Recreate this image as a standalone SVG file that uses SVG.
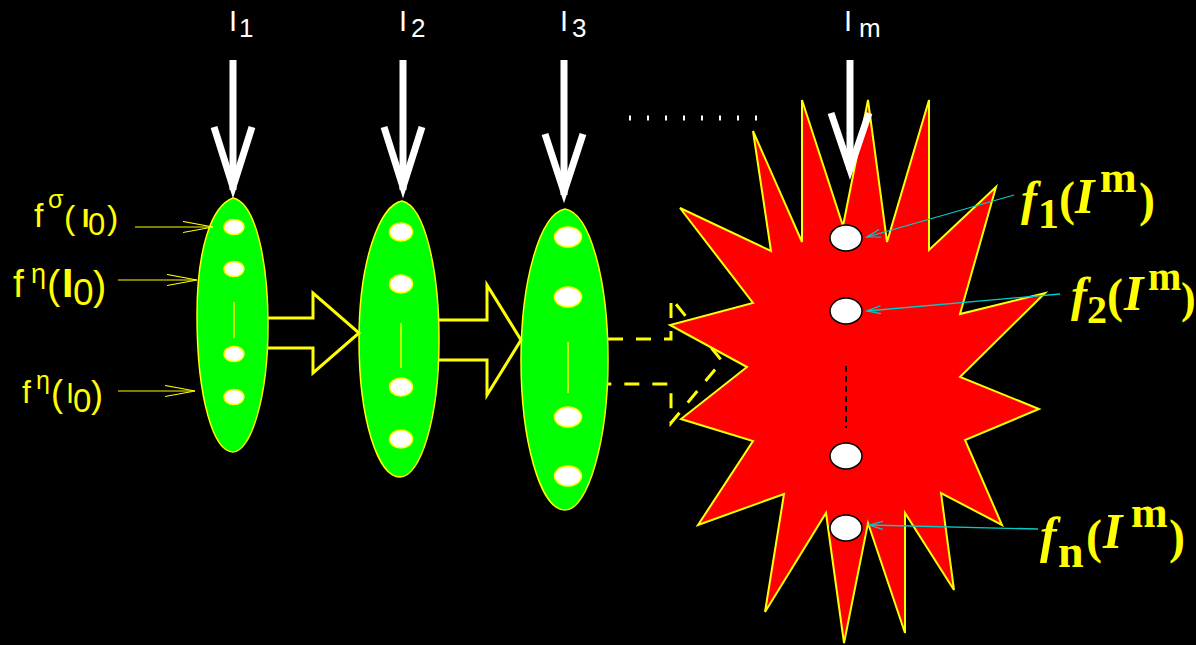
<svg xmlns="http://www.w3.org/2000/svg" width="1196" height="645" viewBox="0 0 1196 645">
<defs>
<style>
.leaf{fill:#00ff00;stroke:#ffff00;stroke-width:1.5}
.dot{fill:#ffffff;stroke:#ffff00;stroke-width:1.5}
.sdot{fill:#ffffff;stroke:#000000;stroke-width:1.5}
.vdash{stroke:#ffff00;stroke-width:1.5}
.warrow{fill:none;stroke:#ffffff;stroke-width:7;stroke-linejoin:miter;stroke-miterlimit:10}
.block{fill:none;stroke:#ffff00;stroke-width:3}
.ylink{stroke:#ffff00;stroke-width:1.2;fill:none}
.clink{stroke:#00cccc;stroke-width:1.3;fill:none}
.wlbl{font-family:"Liberation Sans",Arial,sans-serif;fill:#ffffff}
.ylbl{font-family:"Liberation Sans",Arial,sans-serif;fill:#ffff00}
.flbl{font-family:"Liberation Serif","Times New Roman",serif;font-weight:bold;fill:#ffff00}
.it{font-style:italic}
</style>
<marker id="yhead" markerWidth="32" markerHeight="14" refX="30" refY="6" orient="auto" markerUnits="userSpaceOnUse"><path d="M0,0.5 L30,6 L0,11.5" fill="none" stroke="#ffff00" stroke-width="1.2"/></marker>
<marker id="chead" markerWidth="16" markerHeight="10" refX="14" refY="5" orient="auto" markerUnits="userSpaceOnUse"><path d="M0,1 L14,5 L0,9" fill="none" stroke="#00cccc" stroke-width="1.2"/></marker>
</defs>
<rect x="0" y="0" width="1196" height="645" fill="#000000"/>

<g id="node-set1">
<path class="leaf" d="M233,198 C256,203 268,262 268,325 C268,400 250,452 233,452 C214,452 197,400 197,315 C197,250 211,206 233,198 Z"/>
<ellipse class="dot" cx="234" cy="227" rx="10" ry="7.5"/>
<ellipse class="dot" cx="234" cy="269" rx="10" ry="7.5"/>
<line class="vdash" x1="234" y1="302" x2="234" y2="338"/>
<ellipse class="dot" cx="234" cy="354" rx="10" ry="7.5"/>
<ellipse class="dot" cx="234" cy="397" rx="10" ry="7.5"/>
</g>

<g id="node-set2">
<path class="leaf" d="M402,201 C425,206 439,270 439,340 C439,420 420,477 400,477 C378,477 359,420 359,340 C359,260 380,205 402,201 Z"/>
<ellipse class="dot" cx="401" cy="232" rx="11.5" ry="9"/>
<ellipse class="dot" cx="401" cy="284" rx="11.5" ry="9"/>
<line class="vdash" x1="401" y1="323" x2="401" y2="368"/>
<ellipse class="dot" cx="401" cy="387" rx="11.5" ry="9"/>
<ellipse class="dot" cx="401" cy="439" rx="11.5" ry="9"/>
</g>

<g id="node-set3">
<path class="leaf" d="M565,209 C590,213 608,280 608,360 C608,440 588,510 565,510 C540,510 521,440 521,360 C521,280 540,214 565,209 Z"/>
<ellipse class="dot" cx="568" cy="237" rx="13.5" ry="10"/>
<ellipse class="dot" cx="568" cy="297" rx="13.5" ry="10"/>
<line class="vdash" x1="568" y1="342" x2="568" y2="393"/>
<ellipse class="dot" cx="568" cy="417" rx="13.5" ry="10"/>
<ellipse class="dot" cx="568" cy="476" rx="13.5" ry="10"/>
</g>

<g id="connectors">
<path class="block" d="M268,318 H313 V293 L359,333 L313,373 V348 H268"/>
<path class="block" d="M439,320 H487 V285 L521,340 L487,395 V360 H439"/>
<path class="block" stroke-dasharray="15 13" d="M608,339 H671 V298 L722,361 L671,423 V384 H608"/>
<line class="ylink" x1="135" y1="227" x2="213" y2="227" marker-end="url(#yhead)"/>
<line class="ylink" x1="118" y1="280" x2="197" y2="280" marker-end="url(#yhead)"/>
<line class="ylink" x1="118" y1="391" x2="195" y2="391" marker-end="url(#yhead)"/>
<line x1="629" y1="118" x2="757" y2="118" stroke="#ffffff" stroke-width="5" stroke-dasharray="2 16"/>
</g>

<g id="node-final">
<polygon fill="#ff0000" stroke="#ffff00" stroke-width="2" stroke-linejoin="miter" points="680,208 771,251 753,131 802,242 802,100 843,226 868,100 887,242 929,100 929,250 996,187 960,314 1045,293 960,377 1039,409 965,440 1002,525 941,493 954,590 905,513 905,633 868,523 844,643 826,513 765,612 784,494 698,525 753,441 681,419 747,367 670,325 753,303"/>
<ellipse class="sdot" cx="846" cy="238" rx="16" ry="13"/>
<ellipse class="sdot" cx="846" cy="311" rx="16" ry="13"/>
<line x1="846" y1="366" x2="846" y2="428" stroke="#000000" stroke-width="2" stroke-dasharray="6 4"/>
<ellipse class="sdot" cx="846" cy="456" rx="16" ry="13"/>
<ellipse class="sdot" cx="846" cy="528" rx="16" ry="13"/>
</g>

<g id="inputs">
<line class="warrow" x1="233" y1="60" x2="233" y2="190"/>
<polyline class="warrow" points="214,127 233,187 252,127"/>
<line class="warrow" x1="403" y1="60" x2="403" y2="190"/>
<polyline class="warrow" points="384,127 403,187 422,127"/>
<line class="warrow" x1="564" y1="60" x2="564" y2="195"/>
<polyline class="warrow" points="545,134 564,192 583,134"/>
<line class="warrow" x1="850" y1="60" x2="850" y2="170"/>
<polyline class="warrow" points="831,113 850,169 869,113"/>
</g>

<g id="output-links">
<line class="clink" x1="1014" y1="195" x2="867" y2="237" marker-end="url(#chead)"/>
<line class="clink" x1="1060" y1="294" x2="867" y2="311" marker-end="url(#chead)"/>
<line class="clink" x1="1038" y1="529" x2="869" y2="525" marker-end="url(#chead)"/>
</g>

<g id="labels-inputs">
<text class="wlbl" font-size="29" x="229" y="31">I<tspan font-size="26" x="239" y="37">1</tspan></text>
<text class="wlbl" font-size="29" x="399" y="31">I<tspan font-size="26" x="411" y="37">2</tspan></text>
<text class="wlbl" font-size="29" x="560" y="31">I<tspan font-size="26" x="572" y="37">3</tspan></text>
<text class="wlbl" font-size="29" x="844" y="31">I<tspan font-size="26" x="859" y="37">m</tspan></text>
</g>

<g id="labels-left">
<text class="ylbl" font-size="34" x="34" y="227">f<tspan font-size="25" x="48" y="208">σ</tspan><tspan font-size="34" x="64" y="229">(</tspan><tspan font-size="26" font-weight="bold" x="82" y="227">I</tspan><tspan font-size="31" x="88" y="235">0</tspan><tspan font-size="34" x="107" y="229">)</tspan></text>
<text class="ylbl" font-size="39" x="13" y="297">f<tspan font-size="27" x="31" y="283">η</tspan><tspan font-size="40" x="47" y="299">(</tspan><tspan font-size="41" font-weight="bold" x="62" y="297">I</tspan><tspan font-size="37" x="73" y="305">0</tspan><tspan font-size="40" x="93" y="300">)</tspan></text>
<text class="ylbl" font-size="32" x="22" y="403">f<tspan font-size="25" x="36" y="389">η</tspan><tspan font-size="36" x="51" y="406">(</tspan><tspan font-size="29" x="66" y="403">I</tspan><tspan font-size="33" x="73" y="412">0</tspan><tspan font-size="36" x="91" y="407">)</tspan></text>
</g>

<g id="labels-outputs">
<text class="flbl" font-size="48" x="1021" y="215"><tspan class="it">f</tspan><tspan font-size="42" x="1038" y="228">1</tspan><tspan x="1059" y="215">(</tspan><tspan class="it" font-size="50" x="1075" y="213">I</tspan><tspan font-size="44" x="1100" y="192">m</tspan><tspan x="1139" y="216">)</tspan></text>
<text class="flbl" font-size="48" x="1071" y="311"><tspan class="it">f</tspan><tspan font-size="40" x="1087" y="323">2</tspan><tspan x="1107" y="312">(</tspan><tspan class="it" font-size="50" x="1124" y="310">I</tspan><tspan font-size="40" x="1148" y="290">m</tspan><tspan font-size="44" x="1181" y="313">)</tspan></text>
<text class="flbl" font-size="50" x="1040" y="552"><tspan class="it">f</tspan><tspan font-size="46" x="1058" y="567">n</tspan><tspan font-size="48" x="1086" y="553">(</tspan><tspan class="it" font-size="50" x="1103" y="548">I</tspan><tspan font-size="44" x="1131" y="527">m</tspan><tspan font-size="48" x="1169" y="553">)</tspan></text>
</g>
</svg>
